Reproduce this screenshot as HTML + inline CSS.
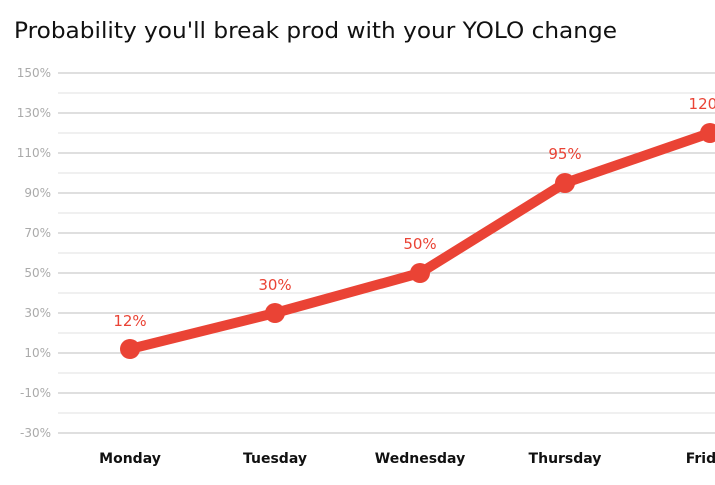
<!DOCTYPE html><html><head><meta charset="utf-8"><style>body{margin:0;background:#fff}</style></head><body>
<svg width="715" height="480" xmlns="http://www.w3.org/2000/svg" font-family="'Comic Sans MS','DejaVu Sans',sans-serif">
<rect width="715" height="480" fill="#fff"/>
<text x="14" y="38" font-size="22" fill="#111" textLength="603" lengthAdjust="spacingAndGlyphs">Probability you'll break prod with your YOLO change</text>
<g stroke-width="1.2">
<line x1="58" x2="715" y1="73" y2="73" stroke="#ccc"/><line x1="58" x2="715" y1="93" y2="93" stroke="#e8e8e8"/>
<line x1="58" x2="715" y1="113" y2="113" stroke="#ccc"/><line x1="58" x2="715" y1="133" y2="133" stroke="#e8e8e8"/>
<line x1="58" x2="715" y1="153" y2="153" stroke="#ccc"/><line x1="58" x2="715" y1="173" y2="173" stroke="#e8e8e8"/>
<line x1="58" x2="715" y1="193" y2="193" stroke="#ccc"/><line x1="58" x2="715" y1="213" y2="213" stroke="#e8e8e8"/>
<line x1="58" x2="715" y1="233" y2="233" stroke="#ccc"/><line x1="58" x2="715" y1="253" y2="253" stroke="#e8e8e8"/>
<line x1="58" x2="715" y1="273" y2="273" stroke="#ccc"/><line x1="58" x2="715" y1="293" y2="293" stroke="#e8e8e8"/>
<line x1="58" x2="715" y1="313" y2="313" stroke="#ccc"/><line x1="58" x2="715" y1="333" y2="333" stroke="#e8e8e8"/>
<line x1="58" x2="715" y1="353" y2="353" stroke="#ccc"/><line x1="58" x2="715" y1="373" y2="373" stroke="#e8e8e8"/>
<line x1="58" x2="715" y1="393" y2="393" stroke="#ccc"/><line x1="58" x2="715" y1="413" y2="413" stroke="#e8e8e8"/>
<line x1="58" x2="715" y1="433" y2="433" stroke="#ccc"/>
</g>
<g font-size="12" fill="#aaa" text-anchor="end">
<text x="51" y="77">150%</text><text x="51" y="117">130%</text><text x="51" y="157">110%</text>
<text x="51" y="197">90%</text><text x="51" y="237">70%</text><text x="51" y="277">50%</text>
<text x="51" y="317">30%</text><text x="51" y="357">10%</text><text x="51" y="397">-10%</text><text x="51" y="437">-30%</text>
</g>
<g font-size="14" font-weight="bold" fill="#111" text-anchor="middle">
<text x="130" y="463">Monday</text><text x="275" y="463">Tuesday</text><text x="420" y="463">Wednesday</text>
<text x="565" y="463">Thursday</text><text x="710" y="463">Friday</text>
</g>
<polyline points="130,349 275,313 420,273 565,183 710,133" fill="none" stroke="#ea4335" stroke-width="10" stroke-linejoin="round"/>
<g fill="#ea4335">
<circle cx="130" cy="349" r="10"/><circle cx="275" cy="313" r="10"/><circle cx="420" cy="273" r="10"/><circle cx="565" cy="183" r="10"/><circle cx="710" cy="133" r="10"/>
</g>
<g font-size="15" fill="#ea4335" text-anchor="middle">
<text x="130" y="326">12%</text><text x="275" y="290">30%</text><text x="420" y="249">50%</text><text x="565" y="159">95%</text><text x="710" y="109">120%</text>
</g>
</svg>
</body></html>
